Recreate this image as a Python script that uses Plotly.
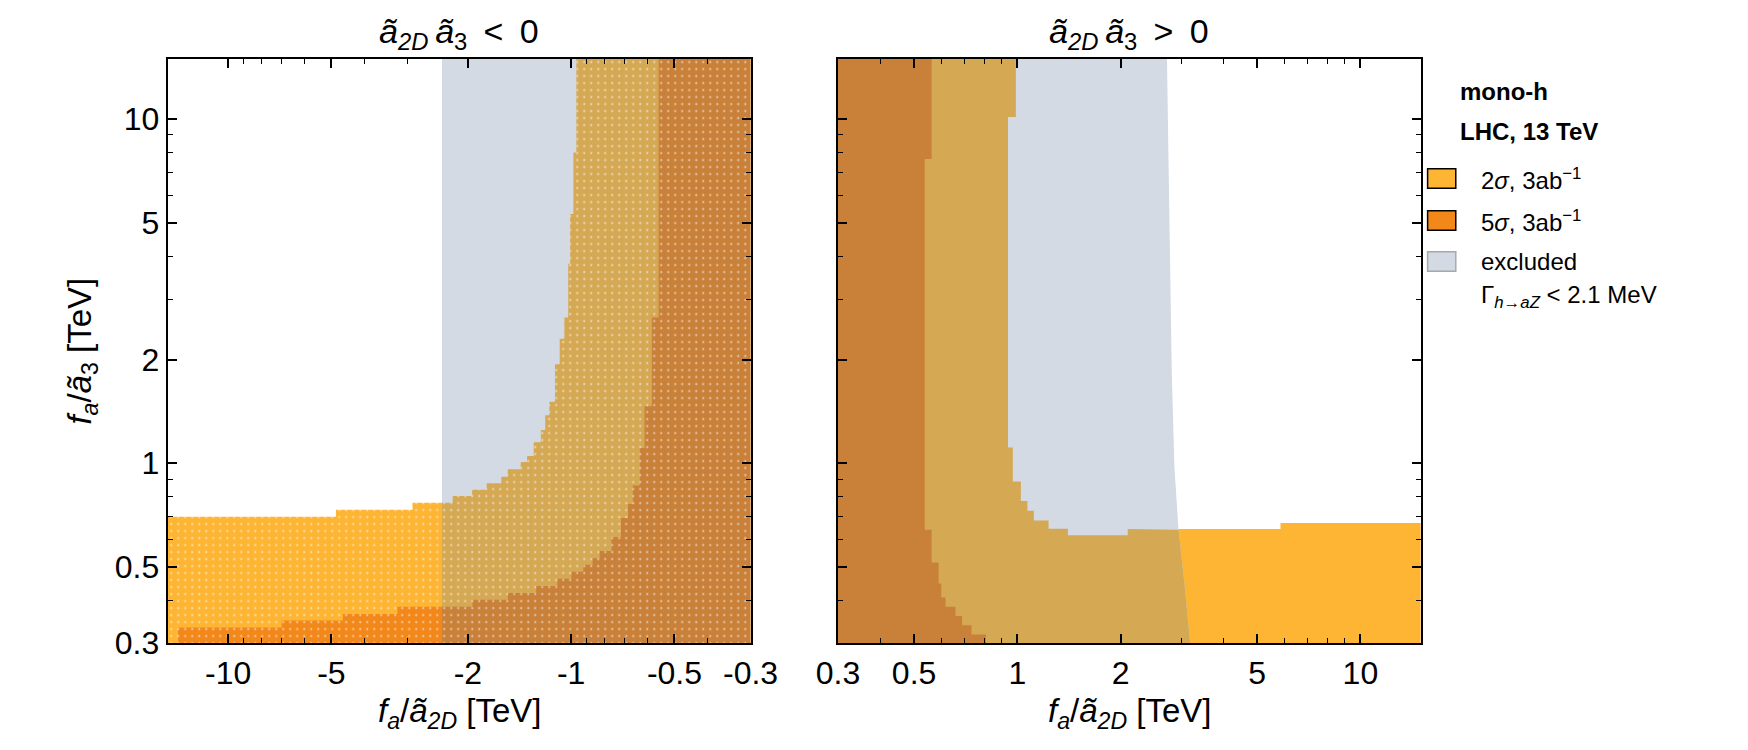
import numpy as np
import plotly.graph_objects as go

W, H = 1748, 750
FONT = "Liberation Sans, Arial, sans-serif"

# ---------------- data ----------------
X_RANGE = (0.3, 15.0)
Y_RANGE = (0.3, 15.0)

# Left panel  (a2D*a3 < 0): x = f_a/a2D (negative). Level staircases:
# each level y[i] starts at x[i] and runs to x[i+1]
sig2_L_x = [-15, -4.85, -2.90, -2.215, -1.944, -1.763, -1.599, -1.531, -1.403, -1.344,
            -1.286, -1.226, -1.19, -1.158, -1.115, -1.08, -1.047, -1.02, -1.007, -0.985, -0.966]
sig2_L_y = [0.699, 0.733, 0.768, 0.803, 0.838, 0.875, 0.913, 0.96, 1.009, 1.05,
            1.15, 1.25, 1.38, 1.51, 1.94, 2.3, 2.65, 3.8, 5.3, 8.0, 15]
sig5_L_x = [-14.0, -6.98, -4.63, -3.21, -1.94, -1.53, -1.265, -1.097, -0.998, -0.922,
            -0.866, -0.826, -0.763, -0.716, -0.683, -0.661, -0.631, -0.611, -0.582, -0.556]
sig5_L_y = [0.333, 0.349, 0.365, 0.383, 0.401, 0.42, 0.44, 0.462, 0.484, 0.507,
            0.53, 0.556, 0.611, 0.693, 0.761, 0.862, 1.107, 1.465, 2.65, 15]
excl_L_edge = -2.38

# Right panel (a2D*a3 > 0)
sig5_R_y = [0.3, 0.318, 0.338, 0.36, 0.383, 0.407, 0.447, 0.515, 0.641, 7.66]
sig5_R_x = [0.81, 0.735, 0.69, 0.66, 0.6175, 0.60, 0.5895, 0.5625, 0.537, 0.5625]
sig2_R_x = [0.3, 0.3, 0.99, 0.99, 0.939, 0.939, 0.97, 0.97, 1.024, 1.024, 1.07, 1.07,
            1.117, 1.117, 1.233, 1.233, 1.404, 1.404, 2.098, 2.098, 5.85, 5.85, 15, 15]
sig2_R_y = [0.3, 15, 15, 10.15, 10.15, 1.112, 1.112, 0.885, 0.885, 0.777, 0.777, 0.728,
            0.728, 0.682, 0.682, 0.645, 0.645, 0.618, 0.618, 0.644, 0.644, 0.671, 0.671, 0.3]
excl_R_x = [2.73, 2.78, 2.82, 2.87, 2.95, 3.07, 3.19]
excl_R_y = [15, 4.65, 1.82, 0.976, 0.641, 0.447, 0.3]

major_ticks = [0.3, 0.5, 1, 2, 5, 10]
minor_ticks = [0.4, 0.6, 0.7, 0.8, 0.9, 3, 4, 6, 7, 8, 9]
xL_ticktext = ["-0.3", "-0.5", "-1", "-2", "-5", "-10"]
xR_ticktext = ["0.3", "0.5", "1", "2", "5", "10"]
y_ticktext = ["0.3", "0.5", "1", "2", "5", "10"]

C2 = "#FDB533"
C5 = "#F2871A"
CG = "#D3DAE4"
C2G = "#D5A854"
C5G = "#C98039"


# ---------------- geometry helpers ----------------
def hsteps(xs, ys):
    pts = []
    for i in range(len(xs)):
        pts.append((xs[i], ys[i]))
        if i + 1 < len(xs):
            pts.append((xs[i + 1], ys[i]))
    return pts


def vsteps(xs, ys, ytop):
    pts = []
    for i in range(len(xs)):
        y1 = ys[i + 1] if i + 1 < len(ys) else ytop
        pts.append((xs[i], ys[i]))
        pts.append((xs[i], y1))
    return pts


def make_gfun(cx, cy):
    lx = np.log10(cx)[::-1]
    ly = np.log10(cy)[::-1]

    def g(logy):
        return np.interp(logy, ly, lx)
    return g


def clip(poly, gfun, curve):
    """keep part with log10(x) <= gfun(log10(y)); poly in data coords (positive)."""
    L = [(np.log10(x), np.log10(y)) for x, y in poly]

    def f(p):
        return p[0] - gfun(p[1])

    def inter(a, b):
        lo, hi = 0.0, 1.0
        fa = f(a)
        for _ in range(60):
            m = 0.5 * (lo + hi)
            p = (a[0] + m * (b[0] - a[0]), a[1] + m * (b[1] - a[1]))
            if (f(p) <= 0) == (fa <= 0):
                lo = m
            else:
                hi = m
        m = 0.5 * (lo + hi)
        return (a[0] + m * (b[0] - a[0]), a[1] + m * (b[1] - a[1]))

    out = []
    n = len(L)
    for i in range(n):
        cur, prev = L[i], L[i - 1]
        ci, pi = f(cur) <= 1e-12, f(prev) <= 1e-12
        if ci:
            if not pi:
                out.append(("in", inter(prev, cur)))
            out.append(("v", cur))
        elif pi:
            out.append(("out", inter(prev, cur)))
    res = []
    m = len(out)
    for k in range(m):
        tag, p = out[k]
        res.append(p)
        ntag, q = out[(k + 1) % m]
        if tag == "out" and ntag == "in":
            ya, yb = p[1], q[1]
            lo_, hi_ = min(ya, yb), max(ya, yb)
            cps = [(np.log10(cx), np.log10(cy)) for cx, cy in curve
                   if lo_ < np.log10(cy) < hi_]
            cps.sort(key=lambda c: c[1], reverse=(ya > yb))
            res.extend(cps)
    return [(10 ** a, 10 ** b) for a, b in res]


# ---------------- build polygons ----------------
polyL2 = [(-15, 0.3)] + hsteps(sig2_L_x, sig2_L_y) + [(-0.3, 15), (-0.3, 0.3)]
polyL5 = [(-14.0, 0.3)] + hsteps(sig5_L_x, sig5_L_y) + [(-0.3, 15), (-0.3, 0.3)]
polyL2 = [(abs(x), y) for x, y in polyL2]
polyL5 = [(abs(x), y) for x, y in polyL5]
gL = lambda ly: np.log10(abs(excl_L_edge))
polyLG = [(abs(excl_L_edge), 0.3), (abs(excl_L_edge), 15), (0.3, 15), (0.3, 0.3)]
polyL2g = clip(polyL2, gL, [])
polyL5g = clip(polyL5, gL, [])

polyR5 = [(0.3, 0.3)] + vsteps(sig5_R_x, sig5_R_y, 15) + [(0.3, 15)]
polyR2 = list(zip(sig2_R_x, sig2_R_y))
curveR = list(zip(excl_R_x, excl_R_y))
gR = make_gfun(excl_R_x, excl_R_y)
polyRG = [(0.3, 0.3), (0.3, 15)] + curveR
polyR2g = clip(polyR2, gR, curveR)
polyR5g = clip(polyR5, gR, curveR)

fig = go.Figure()


def add_poly(poly, color, xa, ya, pattern=False):
    xs = [p[0] for p in poly] + [poly[0][0]]
    ys = [p[1] for p in poly] + [poly[0][1]]
    kw = {}
    if pattern:
        kw["fillpattern"] = dict(shape=".", bgcolor=color, fgcolor="white",
                                 fgopacity=0.75, size=7, solidity=0.06)
    fig.add_trace(go.Scatter(x=xs, y=ys, mode="lines", fill="toself", fillcolor=color,
                             line=dict(width=0, color=color), xaxis=xa, yaxis=ya,
                             hoverinfo="skip", showlegend=False, **kw))


# left panel
add_poly(polyL2, C2, "x", "y", True)
add_poly(polyL5, C5, "x", "y", True)
add_poly(polyLG, CG, "x", "y")
add_poly(polyL2g, C2G, "x", "y", True)
add_poly(polyL5g, C5G, "x", "y", True)
# right panel
add_poly(polyR2, C2, "x2", "y2")
add_poly(polyRG, CG, "x2", "y2")
add_poly(polyR2g, C2G, "x2", "y2")
add_poly(polyR5g, C5G, "x2", "y2")

lx = [np.log10(X_RANGE[0]), np.log10(X_RANGE[1])]
ly = [np.log10(Y_RANGE[0]), np.log10(Y_RANGE[1])]

tickfont = dict(family=FONT, size=32, color="black")


def axis_common():
    return dict(type="log", showgrid=False, zeroline=False, showline=True, linewidth=2,
                linecolor="black", mirror="ticks", ticks="inside", ticklen=9, tickwidth=1.5,
                tickcolor="black", tickfont=tickfont, tickmode="array", tickvals=major_ticks,
                minor=dict(tickmode="array", tickvals=minor_ticks, ticks="inside", ticklen=5,
                           tickwidth=1.2, tickcolor="black", showgrid=False))


dom_y = [1 - 659 / H, 1 - 60 / H]
fig.update_layout(
    width=W, height=H, margin=dict(l=0, r=0, t=0, b=0),
    plot_bgcolor="white", paper_bgcolor="white", showlegend=False,
    xaxis=dict(**axis_common(), range=[lx[1], lx[0]], ticktext=xL_ticktext,
               domain=[150 / W, 750 / W], anchor="y"),
    yaxis=dict(**axis_common(), range=ly, ticktext=y_ticktext, domain=dom_y, anchor="x"),
    xaxis2=dict(**axis_common(), range=lx, ticktext=xR_ticktext,
                domain=[840 / W, 1440 / W], anchor="y2"),
    yaxis2=dict(**axis_common(), range=ly, showticklabels=False, domain=dom_y, anchor="x2"),
)


def P(x, y):
    return x / W, 1 - y / H


ann = []


def text(x, y, s, size, xanchor="center", angle=0):
    px_, py_ = P(x, y)
    ann.append(dict(x=px_, y=py_, xref="paper", yref="paper", text=s, showarrow=False,
                    xanchor=xanchor, yanchor="middle", textangle=angle,
                    font=dict(family=FONT, size=size, color="black")))


SP = "&#8201;"
text(450, 34, "<i>ã</i><sub><i>2D</i></sub>" + SP + "<i>ã</i><sub>3</sub>" + SP + " &lt; " + SP + "0", 34)
text(1140, 34, "<i>ã</i><sub><i>2D</i></sub>" + SP + "<i>ã</i><sub>3</sub>" + SP + " &gt; " + SP + "0", 34)
text(450, 731, "<i>f<sub>a</sub></i>/<i>ã</i><sub><i>2D</i></sub> [TeV]", 33)
text(1140, 731, "<i>f<sub>a</sub></i>/<i>ã</i><sub><i>2D</i></sub> [TeV]", 33)
text(62, 360, "<i>f<sub>a</sub></i>/<i>ã</i><sub>3</sub> [TeV]", 33, angle=-90)

# legend
text(1478, 94, "<b>mono-h</b>", 24, xanchor="left")
text(1478, 135, "<b>LHC, 13 TeV</b>", 24, xanchor="left")
text(1500, 183, "2<i>σ</i>, 3ab<sup>−1</sup>", 24, xanchor="left")
text(1500, 226, "5<i>σ</i>, 3ab<sup>−1</sup>", 24, xanchor="left")
text(1500, 268, "excluded", 24, xanchor="left")
text(1500, 304, "Γ<sub><i>h→aZ</i></sub> &lt; 2.1 MeV", 24, xanchor="left")

shapes = []
for (y0, col, border) in [(173, C2, "black"), (216, C5, "black"), (258, CG, "#A8A8A8")]:
    x0p, y0p = P(1447, y0)
    x1p, y1p = P(1476, y0 + 20)
    shapes.append(dict(type="rect", xref="paper", yref="paper", x0=x0p, x1=x1p, y0=y1p, y1=y0p,
                       fillcolor=col, line=dict(color=border, width=1.5)))

fig.update_layout(annotations=ann, shapes=shapes)
fig.write_html("out.html")
